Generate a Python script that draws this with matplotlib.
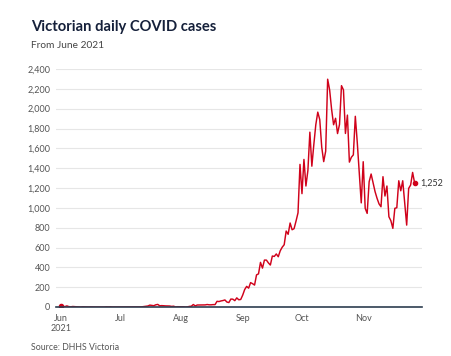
import numpy as np
import pandas as pd
import matplotlib
matplotlib.use('Agg')
import matplotlib.pyplot as plt
import matplotlib.dates as mdates

plt.rcParams['font.family'] = ['Lato', 'DejaVu Sans']

# daily cases (Jun 1 - Nov 27 2021)
june = [11, 5, 4, 11, 4, 2, 5, 3, 2, 1, 0, 2, 1, 0, 0, 1, 0, 0, 0, 0,
        0, 1, 0, 2, 1, 2, 0, 0, 0, 0]
july = [0, 0, 0, 0, 0, 0, 0, 0, 0, 0, 1, 2, 5, 7, 10, 19, 16, 13, 22, 26,
        12, 14, 12, 11, 10, 10, 6, 8, 1, 3, 2]
august = [2, 2, 0, 1, 6, 8, 25, 11, 20, 20, 21, 20, 21, 25, 22, 22, 24, 24, 57, 55,
          61, 65, 71, 50, 45, 80, 79, 64, 92, 73, 76]
september = [120, 176, 208, 190, 246, 235, 221, 324, 334, 450, 392, 473, 473, 445, 423,
             514, 510, 535, 507, 567, 603, 628, 766, 733, 847, 779, 790, 867, 950, 1438]
october = [1143, 1488, 1220, 1377, 1763, 1420, 1638, 1838, 1965, 1890, 1612, 1466, 1571,
           2297, 2189, 1993, 1838, 1903, 1749, 1841, 2232, 2189, 1750, 1935, 1461, 1510,
           1534, 1923, 1656, 1355, 1050]
november = [1465, 995, 944, 1263, 1341, 1250, 1163, 1096, 1040, 1011, 1314, 1119, 1220,
            910, 870, 793, 995, 1001, 1273, 1172, 1273, 1050, 826, 1196, 1230, 1357, 1252]

cases = june + july + august + september + october + november
dates = pd.date_range('2021-06-01', periods=len(cases), freq='D')

month_ticks = pd.to_datetime(['2021-06-01', '2021-07-01', '2021-08-01',
                              '2021-09-01', '2021-10-01', '2021-11-01'])
month_labels = ['Jun\n2021', 'Jul', 'Aug', 'Sep', 'Oct', 'Nov']
y_ticks = list(range(0, 2401, 200))

red = '#d0021b'
W, H = 451, 356
fig = plt.figure(figsize=(W/100, H/100), dpi=100)
ax = fig.add_axes([56/W, 1-307/H, (421.5-56)/W, (307-69)/H])

ax.plot(dates, cases, color=red, lw=1.05, zorder=3, solid_joinstyle='round')
ax.plot([dates[0], dates[-1]], [cases[0], cases[-1]], 'o', color=red, ms=3, zorder=4)
ax.text(dates[-1] + pd.Timedelta(days=3), cases[-1], '{:,}'.format(cases[-1]),
        fontsize=6.5, color='#333333', va='center', ha='left')

ax.set_ylim(0, 2400)
ax.set_xlim(pd.Timestamp('2021-06-01') - pd.Timedelta(days=2.5),
            pd.Timestamp('2021-06-01') + pd.Timedelta(days=182.5))
ax.set_yticks(y_ticks)
ax.set_yticklabels(['{:,}'.format(v) for v in y_ticks])
ax.set_xticks(month_ticks)
ax.set_xticklabels(month_labels)
ax.grid(axis='y', color='#e6e6e6', lw=0.8)
ax.set_axisbelow(True)
for s in ['top', 'right', 'left']:
    ax.spines[s].set_visible(False)
ax.spines['bottom'].set_color('#2d3e50')
ax.spines['bottom'].set_linewidth(1.2)
ax.spines['bottom'].set_zorder(5)
ax.tick_params(axis='y', length=0, pad=4, labelsize=6.5, labelcolor='#555555')
ax.tick_params(axis='x', length=0, pad=5, labelsize=6.5, labelcolor='#555555')

fig.text(31/W, 1-30.5/H, 'Victorian daily COVID cases', fontsize=10.6, fontweight='bold',
         color='#15203a', va='baseline', ha='left')
fig.text(31/W, 1-48/H, 'From June 2021', fontsize=7.3, color='#444444',
         va='baseline', ha='left')
fig.text(31/W, 1-350/H, 'Source: DHHS Victoria', fontsize=6.3, color='#555555',
         va='baseline', ha='left')

fig.savefig('out.png', dpi=100)
